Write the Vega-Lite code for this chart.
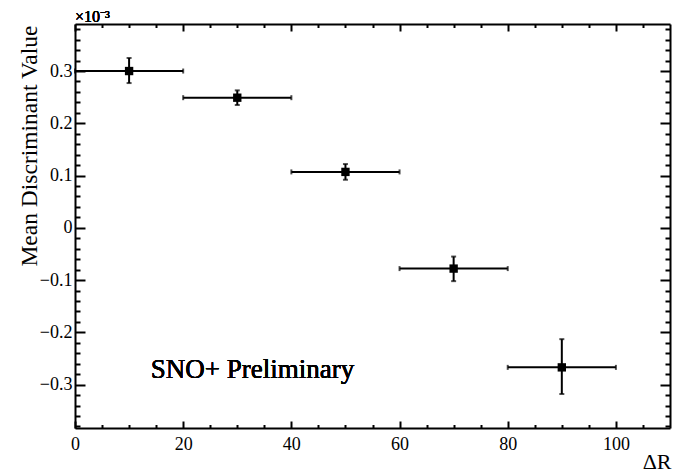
{
  "$schema": "https://vega.github.io/schema/vega-lite/v6.json",
  "width": 595,
  "height": 404,
  "autosize": "none",
  "padding": {"left": 75, "top": 24, "right": 6, "bottom": 45},
  "background": "white",
  "config": {
    "view": {"stroke": null},
    "font": "Liberation Serif",
    "axis": {
      "domainColor": "black",
      "domainWidth": 2,
      "tickColor": "black",
      "tickWidth": 2,
      "grid": false,
      "labelFont": "Liberation Serif",
      "labelFontSize": 18,
      "labelColor": "black",
      "titleFont": "Liberation Serif",
      "titleFontWeight": "normal",
      "titleColor": "black",
      "labelFlush": false,
      "labelOverlap": false
    }
  },
  "data": {
    "values": [
      {"dr": 10, "lo": 0, "hi": 20, "mean": 0.300, "ylo": 0.277, "yhi": 0.325},
      {"dr": 30, "lo": 20, "hi": 40, "mean": 0.249, "ylo": 0.235, "yhi": 0.263},
      {"dr": 50, "lo": 40, "hi": 60, "mean": 0.107, "ylo": 0.092, "yhi": 0.122},
      {"dr": 70, "lo": 60, "hi": 80, "mean": -0.078, "ylo": -0.102, "yhi": -0.055},
      {"dr": 90, "lo": 80, "hi": 100, "mean": -0.267, "ylo": -0.318, "yhi": -0.213}
    ]
  },
  "resolve": {"axis": {"x": "independent", "y": "independent"}},
  "layer": [
    {
      "mark": {"type": "rule", "color": "black", "strokeWidth": 2},
      "encoding": {
        "x": {
          "field": "lo", "type": "quantitative",
          "scale": {"domain": [0, 110], "nice": false, "zero": false},
          "axis": {
            "orient": "bottom",
            "title": "ΔR",
            "titleFontSize": 22,
            "titleAlign": "right",
            "titleBaseline": "alphabetic",
            "titleX": 596,
            "titleY": 40,
            "values": [0, 5, 10, 15, 20, 25, 30, 35, 40, 45, 50, 55, 60, 65, 70, 75, 80, 85, 90, 95, 100, 105],
            "labelExpr": "datum.value % 20 === 0 ? datum.label : ''",
            "labelFontSize": 18,
            "tickSize": {"condition": {"test": "datum.value % 20 === 0", "value": -7}, "value": -3.5},
            "labelPadding": 14
          }
        },
        "x2": {"field": "hi"},
        "y": {
          "field": "mean", "type": "quantitative",
          "scale": {"domain": [-0.383, 0.39], "nice": false, "zero": false},
          "axis": {
            "orient": "left",
            "title": "Mean Discriminant Value",
            "titleFontSize": 23.5,
            "titleAngle": -90,
            "titleAlign": "right",
            "titleBaseline": "alphabetic",
            "titleX": -39,
            "titleY": 1,
            "values": [-0.38, -0.36, -0.34, -0.32, -0.3, -0.28, -0.26, -0.24, -0.22, -0.2, -0.18, -0.16, -0.14, -0.12, -0.1, -0.08, -0.06, -0.04, -0.02, 0, 0.02, 0.04, 0.06, 0.08, 0.1, 0.12, 0.14, 0.16, 0.18, 0.2, 0.22, 0.24, 0.26, 0.28, 0.3, 0.32, 0.34, 0.36, 0.38],
            "labelExpr": "abs(round(datum.value*10) - datum.value*10) < 0.001 ? (datum.value < 0 ? '−' + format(-datum.value, '.1~f') : format(datum.value, '.1~f')) : ''",
            "labelFontSize": 18,
            "tickSize": {"condition": {"test": "abs(round(datum.value*10) - datum.value*10) < 0.001", "value": -10}, "value": -5},
            "labelPadding": 13
          }
        }
      }
    },
    {
      "mark": {"type": "rule", "color": "black", "strokeWidth": 2},
      "encoding": {
        "x": {
          "field": "dr", "type": "quantitative",
          "scale": {"domain": [0, 110], "nice": false, "zero": false},
          "axis": {
            "orient": "top",
            "title": null,
            "labels": false,
            "values": [0, 5, 10, 15, 20, 25, 30, 35, 40, 45, 50, 55, 60, 65, 70, 75, 80, 85, 90, 95, 100, 105],
            "tickSize": {"condition": {"test": "datum.value % 20 === 0", "value": -7}, "value": -3.5}
          }
        },
        "y": {
          "field": "ylo", "type": "quantitative",
          "scale": {"domain": [-0.383, 0.39], "nice": false, "zero": false},
          "axis": {
            "orient": "right",
            "title": null,
            "labels": false,
            "values": [-0.38, -0.36, -0.34, -0.32, -0.3, -0.28, -0.26, -0.24, -0.22, -0.2, -0.18, -0.16, -0.14, -0.12, -0.1, -0.08, -0.06, -0.04, -0.02, 0, 0.02, 0.04, 0.06, 0.08, 0.1, 0.12, 0.14, 0.16, 0.18, 0.2, 0.22, 0.24, 0.26, 0.28, 0.3, 0.32, 0.34, 0.36, 0.38],
            "tickSize": {"condition": {"test": "abs(round(datum.value*10) - datum.value*10) < 0.001", "value": -10}, "value": -5}
          }
        },
        "y2": {"field": "yhi"}
      }
    },
    {
      "transform": [{"fold": ["lo", "hi"], "as": ["end", "xv"]}],
      "mark": {"type": "tick", "orient": "vertical", "color": "black", "thickness": 2, "size": 5},
      "encoding": {
        "x": {"field": "xv", "type": "quantitative", "axis": null},
        "y": {"field": "mean", "type": "quantitative", "axis": null}
      }
    },
    {
      "transform": [{"fold": ["ylo", "yhi"], "as": ["end", "yv"]}],
      "mark": {"type": "tick", "orient": "horizontal", "color": "black", "thickness": 2, "size": 5},
      "encoding": {
        "x": {"field": "dr", "type": "quantitative", "axis": null},
        "y": {"field": "yv", "type": "quantitative", "axis": null}
      }
    },
    {
      "mark": {"type": "square", "color": "black", "opacity": 1, "size": 70, "filled": true},
      "encoding": {
        "x": {"field": "dr", "type": "quantitative", "axis": null},
        "y": {"field": "mean", "type": "quantitative", "axis": null}
      }
    },
    {
      "mark": {"type": "text", "text": "SNO+ Preliminary", "font": "Liberation Serif", "fontSize": 27, "align": "left", "baseline": "alphabetic", "color": "black"},
      "encoding": {
        "x": {"datum": 14, "type": "quantitative", "axis": null},
        "y": {"datum": -0.287, "type": "quantitative", "axis": null}
      }
    },
    {
      "mark": {"type": "text", "text": "×10⁻³", "font": "Liberation Serif", "fontSize": 16, "align": "left", "baseline": "alphabetic", "dy": -2, "color": "black", "clip": false},
      "encoding": {
        "x": {"datum": 0, "type": "quantitative", "axis": null},
        "y": {"datum": 0.39, "type": "quantitative", "axis": null}
      }
    }
  ]
}
